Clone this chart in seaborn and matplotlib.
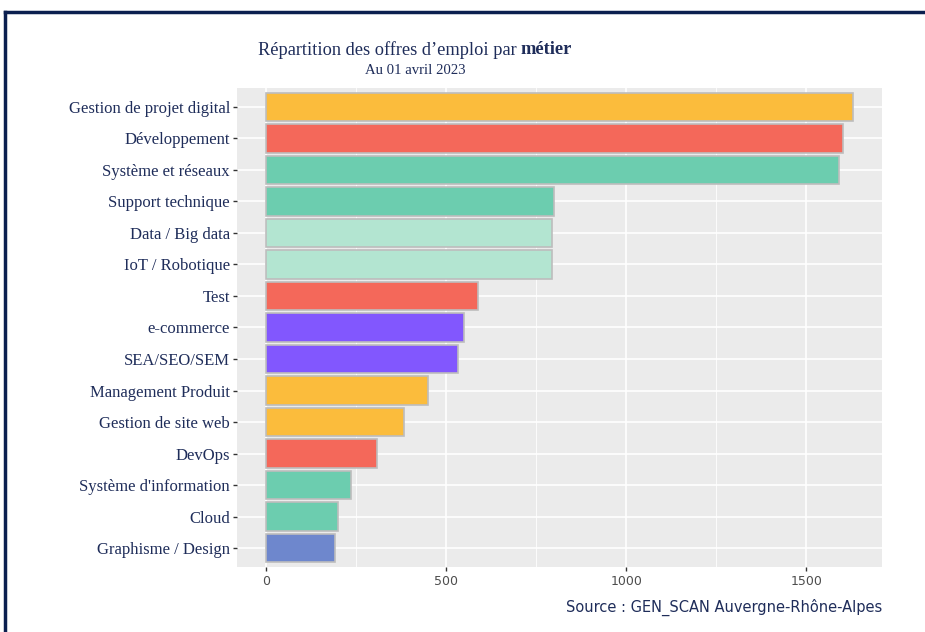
import matplotlib
matplotlib.use("Agg")
import matplotlib.pyplot as plt
import seaborn as sns
import pandas as pd
from matplotlib.lines import Line2D
from matplotlib.ticker import MultipleLocator

categories = ["Gestion de projet digital", "Développement", "Système et réseaux",
              "Support technique", "Data / Big data", "IoT / Robotique", "Test",
              "e-commerce", "SEA/SEO/SEM", "Management Produit", "Gestion de site web",
              "DevOps", "Système d'information", "Cloud", "Graphisme / Design"]
values = [1629, 1601, 1590, 800, 795, 795, 587, 548, 532, 449, 382, 307, 235, 199, 191]
colors = ["#FBBC3C", "#F4685A", "#6CCDAF", "#6CCDAF", "#B3E5D1", "#B3E5D1", "#F4685A",
          "#8257FE", "#8257FE", "#FBBC3C", "#FBBC3C", "#F4685A", "#6CCDAF", "#6CCDAF",
          "#6E87CD"]
xticks = [0, 500, 1000, 1500]

NAVY = "#1F2D5A"
df = pd.DataFrame({"metier": categories, "n": values})

fig = plt.figure(figsize=(9.25, 6.32), dpi=100)
W, H = 925, 632
ax = fig.add_axes([237 / W, 1 - 567 / H, (882 - 237) / W, (567 - 88) / H])
ax.set_facecolor("#EBEBEB")

sns.barplot(data=df, x="n", y="metier", hue="metier", palette=dict(zip(categories, colors)),
            legend=False, orient="h", width=0.9, edgecolor="#BDBDBD", linewidth=1.2,
            saturation=1, ax=ax, zorder=3)

vmax = max(values)
ax.set_xlim(-0.05 * vmax, 1.05 * vmax)
ax.set_ylim(len(categories) - 0.4, -0.6)
ax.set_xticks(xticks)
ax.xaxis.set_minor_locator(MultipleLocator(250))
ax.grid(True, which="major", axis="both", color="white", linewidth=1.2, zorder=0)
ax.grid(True, which="minor", axis="x", color="white", linewidth=0.6, zorder=0)
ax.set_axisbelow(True)
for s in ax.spines.values():
    s.set_visible(False)
ax.set_xlabel("")
ax.set_ylabel("")
ax.tick_params(axis="y", which="major", length=3, width=1, color="#333333", pad=2,
               labelsize=12, labelcolor=NAVY)
ax.tick_params(axis="x", which="major", length=3, width=1, color="#333333", pad=3,
               labelsize=9, labelcolor="#4D4D4D")
ax.tick_params(axis="x", which="minor", length=0)
for lab in ax.get_yticklabels():
    lab.set_fontfamily("Liberation Serif")

# Title with bold word
fig.canvas.draw()
r = fig.canvas.get_renderer()
t1 = fig.text(0, 1 - 50 / H, "Répartition des offres d’emploi par ", family="Liberation Serif",
              fontsize=13.2, color=NAVY, va="center", ha="left")
t2 = fig.text(0, 1 - 50 / H, "métier", family="Liberation Serif", fontsize=13.2,
              fontweight="bold", color=NAVY, va="center", ha="left")
w1 = t1.get_window_extent(r).width
w2 = t2.get_window_extent(r).width
cx = 415
x0 = cx - (w1 + w2) / 2
t1.set_x(x0 / W)
t2.set_x((x0 + w1) / W)
fig.text(cx / W, 1 - 70 / H, "Au 01 avril 2023", family="Liberation Serif", fontsize=10.6,
         color=NAVY, ha="center", va="center")
fig.text(882 / W, 1 - 607 / H, "Source : GEN_SCAN Auvergne-Rhône-Alpes", fontsize=10.5,
         color=NAVY, ha="right", va="center")

# frame
fig.add_artist(Line2D([5 / W, 1.0], [1 - 12 / H, 1 - 12 / H], color="#0B1F4F", lw=2.5,
                      transform=fig.transFigure))
fig.add_artist(Line2D([5 / W, 5 / W], [1 - 12 / H, 0.0], color="#0B1F4F", lw=2.5,
                      transform=fig.transFigure))

fig.savefig("out.png", dpi=100)
